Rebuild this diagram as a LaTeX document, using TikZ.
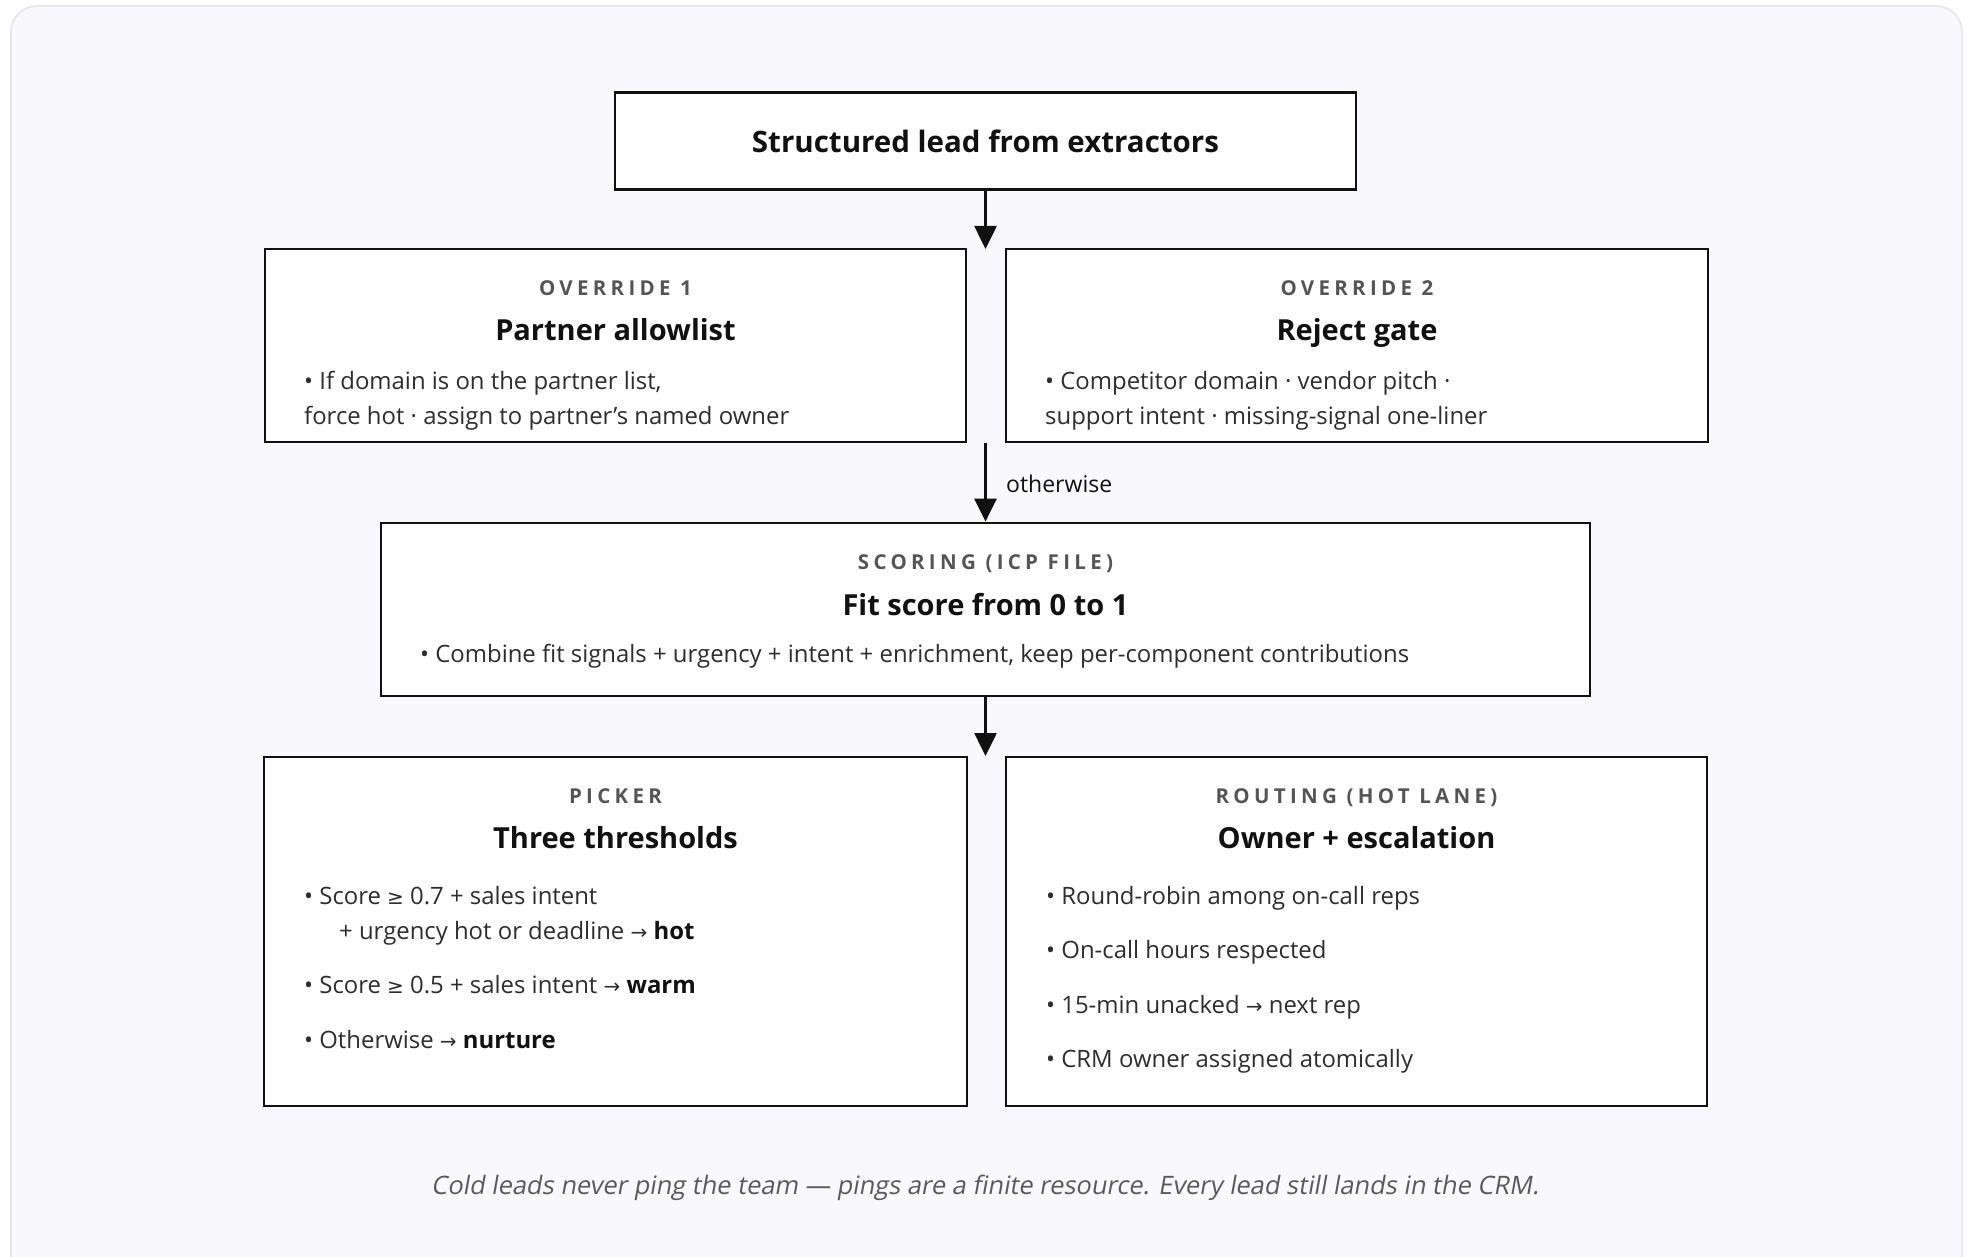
\documentclass[tikz,border=0pt]{standalone}
\usepackage{fontspec}
\setmainfont{Open Sans}
\newfontfamily\symfont{DejaVu Sans}
\usetikzlibrary{arrows.meta}

\definecolor{panelbg}{HTML}{F8F8FD}
\definecolor{panelrule}{HTML}{E5E4EF}
\definecolor{ink}{HTML}{111111}
\definecolor{bodyink}{HTML}{2E2E2E}
\definecolor{kicker}{HTML}{555555}
\definecolor{note}{HTML}{5A5A5A}

\newcommand{\fsz}[1]{\fontsize{#1}{#1}\selectfont}
\newcommand{\toarrow}{{\symfont\fontsize{20}{20}\selectfont →}}
\newcommand{\atleast}{{\symfont\fontsize{20}{20}\selectfont ≥}}
\newcommand{\keyword}[1]{{\bfseries\color{ink}#1}}

\tikzset{
  panel/.style={draw=panelrule, line width=1.6pt, fill=panelbg, rounded corners=26pt},
  stage/.style={draw=ink, line width=2.8pt, fill=white, inner sep=0pt, rectangle},
  flow/.style={draw=ink, line width=2.6pt, -{Triangle[length=23pt,width=22pt]}},
  kick/.style={font=\fsz{20.5}\bfseries\addfontfeatures{LetterSpace=21}, text=kicker, anchor=base, inner sep=0pt},
  head/.style={font=\fsz{29}\bfseries, text=ink, anchor=base, inner sep=0pt},
  line/.style={font=\fsz{23.9}, text=bodyink, anchor=base west, inner sep=0pt},
}

\begin{document}
\begin{tikzpicture}[x=1pt, y=-1pt]
\useasboundingbox (0,0) rectangle (1968,1257);
\clip (0,0) rectangle (1968,1257);
\fill[white] (0,0) rectangle (1968,1257);

% outer panel, running off the lower edge
\draw[panel] (11,6) rectangle (1962,1320);

% stage boxes
\node[stage, minimum width=741pt, minimum height=97pt, font=\fsz{29.5}\bfseries, text=ink]
  (src) at (985.5,141) {Structured lead from extractors};
\node[stage, minimum width=701pt, minimum height=193pt] (ov1) at (615.5,345.5) {};
\node[stage, minimum width=702pt, minimum height=193pt] (ov2) at (1357,345.5) {};
\node[stage, minimum width=1209pt, minimum height=173pt] (score) at (985.5,609.5) {};
\node[stage, minimum width=703pt, minimum height=349pt] (pick) at (615.5,931.5) {};
\node[stage, minimum width=701pt, minimum height=349pt] (route) at (1356.5,931.5) {};

% connector end points in the gaps between paired boxes
\coordinate (split1) at (985.5,249);
\coordinate (merge1) at (985.5,443);
\coordinate (split2) at (985.5,756);

\draw[flow] (src.south) -- (split1);
\draw[flow] (merge1) -- (score.north);
\draw[flow] (score.south) -- (split2);
\node[line, text=ink, font=\fsz{23}] (otherwise) at (1006,492) {otherwise};

% override 1
\node[kick] (ov1k) at (615.5,296) {OVERRIDE 1};
\node[head] (ov1h) at (615.5,341) {Partner allowlist};
\node[line] (ov1a) at (304,389) {• If domain is on the partner list,};
\node[line] (ov1b) at (304,424) {force hot · assign to partner’s named owner};

% override 2
\node[kick] (ov2k) at (1357,296) {OVERRIDE 2};
\node[head] (ov2h) at (1357,341) {Reject gate};
\node[line] (ov2a) at (1045,389) {• Competitor domain · vendor pitch ·};
\node[line] (ov2b) at (1045,424) {support intent · missing-signal one-liner};

% scoring
\node[kick] (sck) at (985.5,569) {SCORING (ICP FILE)};
\node[head] (sch) at (985.5,615) {Fit score from 0 to 1};
\node[line] (sca) at (420,662) {• Combine fit signals + urgency + intent + enrichment, keep per-component contributions};

% picker
\node[kick] (pkk) at (615.5,803) {PICKER};
\node[head] (pkh) at (615.5,848) {Three thresholds};
\node[line] (pka) at (304,904) {• Score \atleast{} 0.7 + sales intent};
\node[line] (pkb) at (339,939) {+ urgency hot or deadline \toarrow{} \keyword{hot}};
\node[line] (pkc) at (304,993) {• Score \atleast{} 0.5 + sales intent \toarrow{} \keyword{warm}};
\node[line] (pkd) at (304,1048) {• Otherwise \toarrow{} \keyword{nurture}};

% routing
\node[kick] (rtk) at (1356.5,803) {ROUTING (HOT LANE)};
\node[head] (rth) at (1356.5,848) {Owner + escalation};
\node[line] (rta) at (1046,904) {• Round-robin among on-call reps};
\node[line] (rtb) at (1046,958) {• On-call hours respected};
\node[line] (rtc) at (1046,1013) {• 15-min unacked \toarrow{} next rep};
\node[line] (rtd) at (1046,1067) {• CRM owner assigned atomically};

% footnote, set in a slanted upright face
\node[font=\fsz{25.4}\addfontfeatures{FakeSlant=0.18}, text=note, anchor=base, inner sep=0pt] (foot) at (985,1194)
  {Cold leads never ping the team — pings are a finite resource. Every lead still lands in the CRM.};
\end{tikzpicture}
\end{document}
